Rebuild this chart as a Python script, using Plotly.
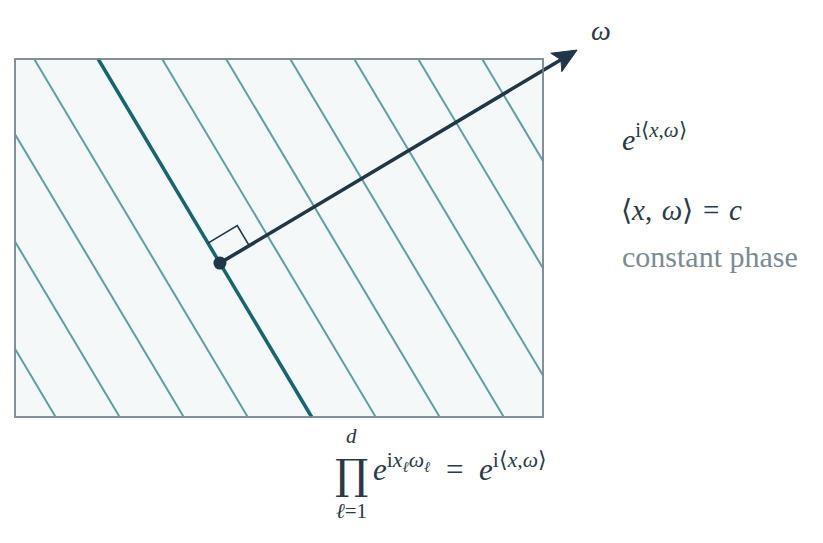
import numpy as np
import plotly.graph_objects as go

# ---------------- data (diagram units) ----------------
rect_x = [0.0, 5.9]            # domain rectangle, x extent
rect_y = [0.0, 4.0]            # domain rectangle, y extent
point_x0 = [2.29, 1.72]        # base point on highlighted phase line
omega = [3.99, 2.38]           # frequency vector ω (arrow from base point)
# phase levels  <x, ω̂> = c  (one straight line each)
phase_levels = [0.390, 1.004, 1.619, 2.233, 2.847, 3.461,
                4.075, 4.690, 5.304, 5.918, 6.532]
highlight_level = 2.847        # the line through the base point
right_angle_sides = [0.26, 0.38]   # marker size along line / along ω

# ---------------- styles ----------------
FILL = "#f4f8f9"
BORDER = "#7b8a91"
THIN = "#5d9fa4"
THICK = "#15676f"
ARROW = "#1f3747"
TEXT = "#2a3a46"
GRAY = "#7c8a92"
FONT = "Liberation Serif"

PAGE_OFF = 8                   # browser body margin
W, H = 823 - PAGE_OFF, 543 - PAGE_OFF
PX = 89.5                      # pixels per diagram unit
ORIGIN_PX = (15 - PAGE_OFF, 417 - PAGE_OFF)
xr = [(0 - ORIGIN_PX[0]) / PX, (W - ORIGIN_PX[0]) / PX]
yr = [(ORIGIN_PX[1] - H) / PX, ORIGIN_PX[1] / PX]

om = np.array(omega)
n_hat = om / np.linalg.norm(om)
l_hat = np.array([-n_hat[1], n_hat[0]])
x0 = np.array(point_x0)


def clip_line(c):
    """segment of {p : <p, n_hat> = c} inside the rectangle"""
    nx, ny = n_hat
    (a, b), (lo, hi) = rect_x, rect_y
    pts = []
    for u in (a, b):
        v = (c - u * nx) / ny
        if lo - 1e-9 <= v <= hi + 1e-9:
            pts.append((u, v))
    for v in (lo, hi):
        u = (c - v * ny) / nx
        if a - 1e-9 <= u <= b + 1e-9:
            pts.append((u, v))
    pts = sorted(set((round(p[0], 6), round(p[1], 6)) for p in pts))
    return pts[0], pts[-1]


fig = go.Figure()

# thin phase lines
tx, ty = [], []
for c in phase_levels:
    if abs(c - highlight_level) < 1e-9:
        continue
    p, q = clip_line(c)
    tx += [p[0], q[0], None]
    ty += [p[1], q[1], None]
fig.add_trace(go.Scatter(x=tx, y=ty, mode="lines",
                         line=dict(color=THIN, width=2), hoverinfo="skip"))

# highlighted phase line
p, q = clip_line(highlight_level)
fig.add_trace(go.Scatter(x=[p[0], q[0]], y=[p[1], q[1]], mode="lines",
                         line=dict(color=THICK, width=3.5), hoverinfo="skip"))

# right-angle marker
a_s, b_s = right_angle_sides
c1 = x0 + a_s * l_hat
c2 = c1 + b_s * n_hat
c3 = x0 + b_s * n_hat
fig.add_trace(go.Scatter(x=[c1[0], c2[0], c3[0]], y=[c1[1], c2[1], c3[1]],
                         mode="lines", line=dict(color=ARROW, width=1.6),
                         hoverinfo="skip"))

# arrow ω
tip = x0 + om
head_len, head_half, notch = 0.27, 0.12, 0.06
base = tip - head_len * n_hat
fig.add_trace(go.Scatter(x=[x0[0], base[0] + notch * n_hat[0]],
                         y=[x0[1], base[1] + notch * n_hat[1]],
                         mode="lines", line=dict(color=ARROW, width=3.6),
                         hoverinfo="skip"))
w1 = base + head_half * l_hat
w2 = base - head_half * l_hat
nb = base + notch * n_hat
fig.add_trace(go.Scatter(x=[tip[0], w1[0], nb[0], w2[0], tip[0]],
                         y=[tip[1], w1[1], nb[1], w2[1], tip[1]],
                         mode="lines", fill="toself", fillcolor=ARROW,
                         line=dict(color=ARROW, width=1), hoverinfo="skip"))

# base point
fig.add_trace(go.Scatter(x=[x0[0]], y=[x0[1]], mode="markers",
                         marker=dict(color=ARROW, size=13), hoverinfo="skip"))

fig.add_shape(type="rect", x0=rect_x[0], x1=rect_x[1], y0=rect_y[0], y1=rect_y[1],
              fillcolor=FILL, line=dict(color=BORDER, width=1.5), layer="below")
fig.add_shape(type="rect", x0=rect_x[0], x1=rect_x[1], y0=rect_y[0], y1=rect_y[1],
              fillcolor="rgba(0,0,0,0)", line=dict(color=BORDER, width=1.5), layer="above")


def ann(px, py, text, size, color=TEXT, xanchor="left", yanchor="middle", family=FONT):
    fig.add_annotation(x=(px - PAGE_OFF) / W, y=1 - (py - PAGE_OFF) / H,
                       xref="paper", yref="paper",
                       text=text, showarrow=False, xanchor=xanchor, yanchor=yanchor,
                       font=dict(family=family, size=size, color=color))


SP = "\u2004"
EN = "\u2002"
ann(601, 31, "<i>ω</i>", 28, xanchor="center")
ann(620, 137, "<i>e</i><sup>i⟨<i>x</i>,<i>ω</i>⟩</sup>", 30)
ann(619, 210, "⟨<i>x</i>," + SP + "<i>ω</i>⟩" + SP + "=" + SP + "<i>c</i>", 29)
ann(620, 256, "constant phase", 30, color=GRAY)
ann(351, 474, "∏", 42, xanchor="center", family="DejaVu Serif")
ann(351, 436, "<i>d</i>", 21, xanchor="center")
ann(351, 511, "<i>ℓ</i>=1", 21, xanchor="center")
ann(371, 467, "<i>e</i><sup>i<i>x</i><sub><i>ℓ</i></sub><i>ω</i><sub><i>ℓ</i></sub></sup>"
              + EN + "=" + EN + "<i>e</i><sup>i⟨<i>x</i>,<i>ω</i>⟩</sup>", 31)

fig.update_layout(width=W, height=H, margin=dict(l=0, r=0, t=0, b=0),
                  paper_bgcolor="white", plot_bgcolor="white", showlegend=False,
                  xaxis=dict(range=xr, visible=False, fixedrange=True),
                  yaxis=dict(range=yr, visible=False, fixedrange=True))

fig.write_html("out.html")
